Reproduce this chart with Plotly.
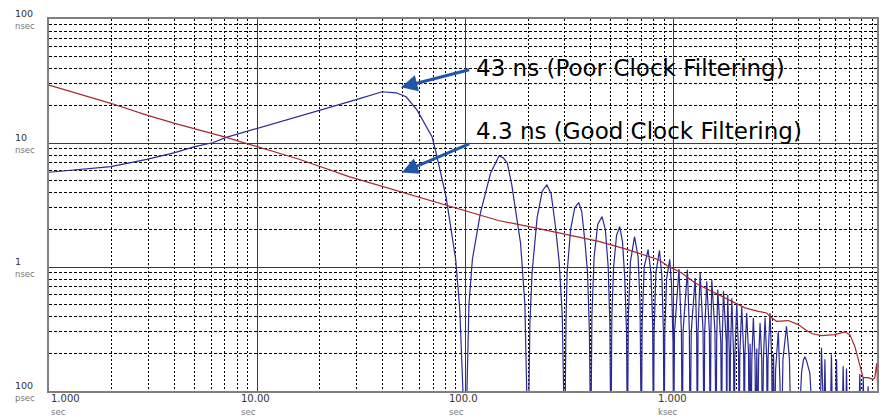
import math
import plotly.graph_objects as go

# ---- TDEV of the poorly filtered clock (averaging time in s, deviation in ns) ----
poor_rise_tau = [1, 1.98, 2.95, 4.02, 5.01, 6.11, 7.10, 10.0, 15.9, 22.9, 30.2, 39.8,
                 46.5, 51.9, 58.6, 69.2, 72.3, 80.7, 86.3, 89.8, 94, 100]
poor_rise_ns = [5.81, 6.45, 7.39, 8.36, 9.34, 10.05, 11.1, 13.1, 16.3, 19.6, 22.5, 25.9,
                25.4, 23.6, 18.4, 11.2, 8.31, 3.70, 1.76, 1.15, 0.45, 0.03]

poor_lobe_tau = [104, 108, 118, 132, 145, 152, 159, 167, 174, 184, 193, 200,
                 204, 209, 221, 234, 246, 258, 270, 282, 292, 300,
                 304, 308, 320, 335, 350, 362, 375, 386, 394, 400,
                 405, 415, 432, 453, 470, 485, 494, 500,
                 505, 515, 532, 551, 568, 583, 594, 600,
                 606, 620, 649, 675, 690, 700,
                 706, 722, 754, 778, 793, 800,
                 806, 822, 855, 878, 893, 900,
                 907, 925, 958, 978, 993, 1000,
                 1010, 1061, 1090, 1100, 1110, 1165, 1190, 1200]
poor_lobe_ns = [0.5, 1.15, 2.72, 5.7, 7.86, 7.6, 6.87, 4.6, 2.89, 1.56, 0.5, 0.03,
                0.35, 0.9, 2.5, 4.1, 4.59, 3.9, 2.2, 1.1, 0.4, 0.03,
                0.35, 0.9, 2.0, 3.0, 3.31, 2.8, 1.6, 0.9, 0.3, 0.03,
                0.4, 1.2, 2.2, 2.55, 2.0, 1.0, 0.35, 0.03,
                0.4, 1.0, 1.8, 2.12, 1.6, 0.8, 0.3, 0.03,
                0.4, 1.1, 1.76, 1.2, 0.5, 0.03,
                0.35, 1.0, 1.38, 0.9, 0.35, 0.03,
                0.3, 0.9, 1.36, 0.85, 0.3, 0.03,
                0.3, 0.8, 1.15, 0.7, 0.25, 0.03,
                0.3, 0.964, 0.3, 0.03, 0.3, 0.95, 0.3, 0.03]

poor_comb_tau = [1215, 1269, 1290, 1300, 1310, 1341, 1385, 1400, 1410, 1442, 1485, 1500,
                 1510, 1525, 1580, 1600, 1610, 1629, 1685, 1700, 1712, 1735, 1790, 1800,
                 1808, 1819, 1850, 1860, 1875, 1903, 1940, 1955, 1970, 2010, 2050, 2065,
                 2080, 2124, 2170, 2185, 2200, 2244, 2290, 2305, 2330, 2350,
                 2375, 2415, 2460, 2480, 2510, 2530, 2560, 2601, 2650, 2670,
                 2700, 2749, 2800, 2820, 2840, 2904, 2960, 2980, 3020, 3050,
                 3090, 3183, 3240, 3290, 3350, 3485, 3600, 3673,
                 4000, 4115, 4200, 4270, 4350, 4509, 4680,
                 5050, 5131, 5200, 5270, 5328, 5400, 5650, 5727, 5800, 5980, 6055, 6150,
                 6450, 6520, 6600, 6700, 6765, 6850, 7750, 7836, 7950, 8050, 8140, 8250,
                 8520, 8590, 8700, 9480]
poor_comb_ns = [0.3, 0.816, 0.3, 0.03, 0.3, 0.895, 0.3, 0.03, 0.3, 0.766, 0.3, 0.03,
                0.3, 0.79, 0.3, 0.03, 0.25, 0.657, 0.25, 0.03, 0.25, 0.64, 0.25, 0.03,
                0.25, 0.598, 0.2, 0.03, 0.2, 0.56, 0.2, 0.03, 0.2, 0.513, 0.2, 0.03,
                0.2, 0.482, 0.2, 0.03, 0.2, 0.426, 0.2, 0.03, 0.24, 0.03,
                0.18, 0.389, 0.18, 0.03, 0.22, 0.03, 0.18, 0.354, 0.18, 0.03,
                0.18, 0.389, 0.18, 0.03, 0.18, 0.426, 0.18, 0.03, 0.2, 0.03,
                0.15, 0.303, 0.12, 0.03, 0.18, 0.333, 0.18, 0.03,
                0.05, 0.14, 0.178, 0.189, 0.175, 0.14, 0.05,
                0.05, 0.223, 0.05, 0.05, 0.18, 0.05, 0.05, 0.197, 0.05, 0.05, 0.18, 0.05,
                0.05, 0.158, 0.05, 0.05, 0.152, 0.05, 0.05, 0.137, 0.05, 0.05, 0.128, 0.05,
                0.05, 0.109, 0.05, 0.05]

# ---- TDEV of the well filtered clock ----
good_tau = [1, 1.98, 2.95, 4.02, 7.10, 10.0, 15.9, 27.6, 48.0, 83.7, 116, 144, 208, 279,
            437, 586, 847, 946, 1095, 1268, 1416, 1581, 1702, 1901, 2203, 2551, 2797,
            2956, 3124, 3555, 3970, 4276, 4596, 5131, 5946, 6637, 7015, 7414, 7836,
            8128, 8590, 9078, 9250, 9460, 9700]
good_ns = [29.3, 20.9, 16.8, 14.4, 11.1, 9.34, 7.39, 5.36, 4.06, 3.07, 2.63, 2.37, 2.10, 1.88,
           1.61, 1.40, 1.145, 1.01, 0.895, 0.743, 0.678, 0.618, 0.580, 0.529, 0.468, 0.439, 0.426,
           0.389, 0.365, 0.370, 0.343, 0.313, 0.291, 0.280, 0.285, 0.300, 0.285, 0.230, 0.1586,
           0.128, 0.128, 0.124, 0.128, 0.168, 0.05]

# ---- axes ----
x_range = [1, 9480]
y_range = [0.1, 100]
x_ticks = [1, 10, 100, 1000]
x_tick_num = ["1.000", "10.00", "100.0", "1.000"]
x_tick_unit = ["sec", "sec", "sec", "ksec"]
y_ticks = [100, 10, 1, 0.1]
y_tick_num = ["100", "10", "1", "100"]
y_tick_unit = ["nsec", "nsec", "nsec", "psec"]

# ---- callouts: label, label anchor (s, ns), arrow tail (s, ns), arrow tip (s, ns) ----
callout_text = ["43 ns (Poor Clock Filtering)", "4.3 ns (Good Clock Filtering)"]
callout_anchor = [(110, 40.3), (110, 12.5)]
callout_tail = [(106, 39.2), (106, 9.94)]
callout_tip = [(49, 28.1), (49.5, 5.77)]

poor_tau = poor_rise_tau + poor_lobe_tau + poor_comb_tau
poor_ns = poor_rise_ns + poor_lobe_ns + poor_comb_ns
assert len(poor_tau) == len(poor_ns)
assert len(good_tau) == len(good_ns)

lg = math.log10

fig = go.Figure()
fig.add_trace(go.Scatter(x=poor_tau, y=poor_ns, mode="lines",
                         line=dict(color="#2a2a96", width=1.2),
                         hoverinfo="skip", showlegend=False))
fig.add_trace(go.Scatter(x=good_tau, y=good_ns, mode="lines",
                         line=dict(color="#a8282e", width=1.2),
                         hoverinfo="skip", showlegend=False))

annotations = []
small = "DejaVu Sans, Arial, sans-serif"
for i, (v, num, unit) in enumerate(zip(x_ticks, x_tick_num, x_tick_unit)):
    annotations.append(dict(
        xref="x", yref="paper", x=lg(v), y=0, xanchor="left", yanchor="top",
        xshift=0 if i == 0 else -18, yshift=0, align="left", showarrow=False,
        text=f"{num}<br><span style='font-size:8.5px;color:#777'>{unit}</span>",
        font=dict(family=small, size=10, color="#333")))
for v, num, unit in zip(y_ticks, y_tick_num, y_tick_unit):
    annotations.append(dict(
        xref="paper", yref="y", x=0, y=lg(v), xanchor="left", yanchor="middle",
        xshift=-36, align="left", showarrow=False,
        text=f"{num}<br><span style='font-size:8.5px;color:#777'>{unit}</span>",
        font=dict(family=small, size=9.5, color="#333")))

for text, (ax_, ay_), (tx, ty), (hx, hy) in zip(callout_text, callout_anchor,
                                               callout_tail, callout_tip):
    annotations.append(dict(
        xref="x", yref="y", x=lg(ax_), y=lg(ay_), xanchor="left", yanchor="middle",
        showarrow=False, text=text,
        font=dict(family="DejaVu Sans, Arial, sans-serif", size=23, color="#000")))
    annotations.append(dict(
        xref="x", yref="y", axref="x", ayref="y",
        x=lg(hx), y=lg(hy), ax=lg(tx), ay=lg(ty), text="",
        showarrow=True, arrowhead=2, arrowsize=1.1, arrowwidth=3,
        arrowcolor="#1f56a8"))

axis_common = dict(type="log", dtick=1, showticklabels=False, ticks="",
                   showgrid=True, gridcolor="#3a3a3a", gridwidth=1,
                   showline=True, mirror=True, linecolor="#808080", linewidth=1.5)

fig.update_xaxes(range=[lg(x_range[0]), lg(x_range[1])], **axis_common,
                 minor=dict(dtick="D1", showgrid=True, gridcolor="#000",
                            gridwidth=1, griddash="2px,2px", ticks=""))
fig.update_yaxes(range=[lg(y_range[0]), lg(y_range[1])], **axis_common,
                 minor=dict(dtick="D1", showgrid=True, gridcolor="#000",
                            gridwidth=1, griddash="3px,2px", ticks=""))

fig.update_layout(width=883, height=417,
                  margin=dict(l=49, r=4, t=19, b=26),
                  paper_bgcolor="white", plot_bgcolor="white",
                  annotations=annotations)

fig.write_html("out.html")
